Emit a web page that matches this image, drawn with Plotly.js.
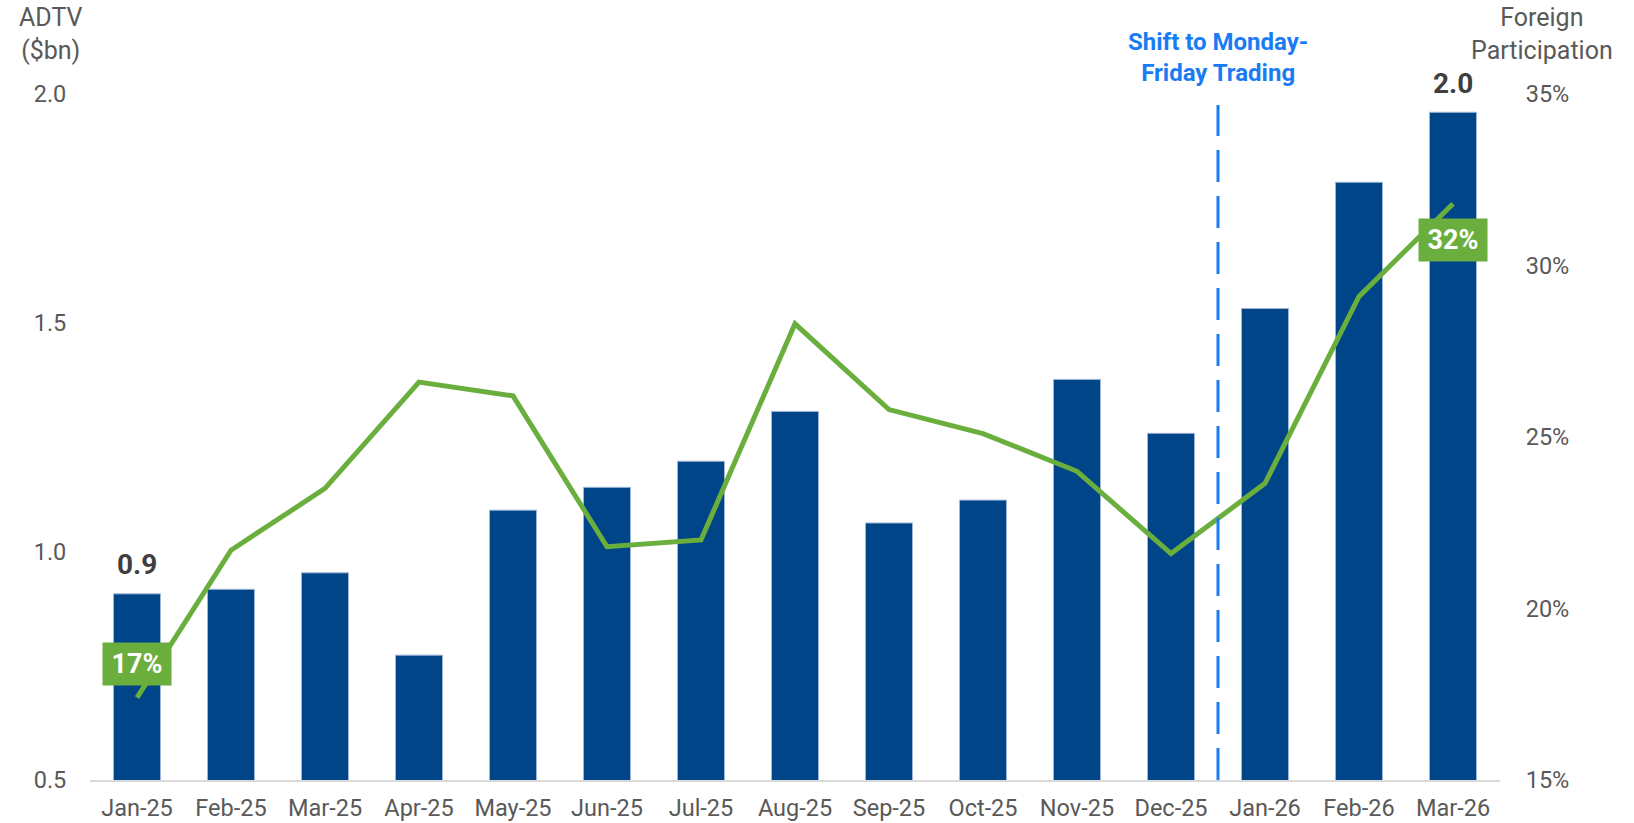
<!DOCTYPE html>
<html>
<head>
<meta charset="utf-8">
<script src="https://cdn.plot.ly/plotly-3.0.1.min.js"></script>
<style>html,body{margin:0;padding:0;background:#fff;}#chart{width:1634px;height:823px;}</style>
</head>
<body>
<div id="chart"></div>
<script>
const months = ["Jan-25","Feb-25","Mar-25","Apr-25","May-25","Jun-25","Jul-25","Aug-25","Sep-25","Oct-25","Nov-25","Dec-25","Jan-26","Feb-26","Mar-26"];
const adtv = [0.907, 0.917, 0.953, 0.773, 1.090, 1.140, 1.197, 1.306, 1.062, 1.112, 1.376, 1.258, 1.531, 1.807, 1.960];
const foreignPct = [17.4, 21.7, 23.5, 26.6, 26.2, 21.8, 22.0, 28.3, 25.8, 25.1, 24.0, 21.6, 23.65, 29.1, 31.8];
const leftTicks = [0.5, 1.0, 1.5, 2.0];
const rightTicks = [15, 20, 25, 30, 35];
const rightTickText = ["15%", "20%", "25%", "30%", "35%"];

const font = "Roboto, 'Noto Sans', sans-serif";
const gray = "#595959";
const barColor = "#004587";
const green = "#6aae3e";
const blue = "#1a7cf5";
const labelDark = "#3f3f3f";

const last = months.length - 1;

const traces = [
  {
    type: "bar", x: months, y: adtv, yaxis: "y",
    marker: {color: barColor, line: {color: "#9db6d6", width: 1}},
    hoverinfo: "skip", showlegend: false
  },
  {
    type: "scatter", mode: "lines", x: months, y: foreignPct, yaxis: "y2",
    line: {color: green, width: 5},
    hoverinfo: "skip", showlegend: false
  }
];

const annotations = [
  {xref: "x", yref: "y", x: months[0], y: adtv[0], text: "<b>" + adtv[0].toFixed(1) + "</b>",
   showarrow: false, yanchor: "middle", yshift: 29, font: {family: font, size: 28, color: labelDark}},
  {xref: "x", yref: "y", x: months[last], y: adtv[last], text: "<b>" + adtv[last].toFixed(1) + "</b>",
   showarrow: false, yanchor: "middle", yshift: 29, font: {family: font, size: 28, color: labelDark}},
  {xref: "x", yref: "y2", x: months[0], y: foreignPct[0], text: "<b>" + Math.round(foreignPct[0]) + "%</b>",
   showarrow: false, yanchor: "middle", yshift: 34, bgcolor: green, width: 68, height: 42, borderpad: 0,
   font: {family: font, size: 27, color: "#ffffff"}},
  {xref: "x", yref: "y2", x: months[last], y: foreignPct[last], text: "<b>" + Math.round(foreignPct[last]) + "%</b>",
   showarrow: false, yanchor: "middle", yshift: -36, bgcolor: green, width: 68, height: 42, borderpad: 0,
   font: {family: font, size: 27, color: "#ffffff"}},
  {xref: "x", yref: "paper", x: 11.5, y: 1.053, text: "<b>Shift to Monday-<br>Friday Trading</b>",
   showarrow: false, yanchor: "middle", xanchor: "center", font: {family: font, size: 24, color: blue}},
  {xref: "paper", yref: "paper", x: -0.028, y: 1.087, text: "ADTV<br>($bn)",
   showarrow: false, yanchor: "middle", xanchor: "center", font: {family: font, size: 25, color: gray}},
  {xref: "paper", yref: "paper", x: 1.030, y: 1.088, text: "Foreign<br>Participation",
   showarrow: false, yanchor: "middle", xanchor: "center", font: {family: font, size: 25, color: gray}}
];

const layout = {
  width: 1634, height: 823,
  margin: {l: 90, r: 134, t: 94, b: 43},
  paper_bgcolor: "#ffffff", plot_bgcolor: "#ffffff",
  bargap: 0.5,
  font: {family: font, size: 23, color: gray},
  xaxis: {
    type: "category", showgrid: false, zeroline: false,
    showline: true, linecolor: "#d9d9d9", linewidth: 2,
    ticks: "outside", ticklen: 6, tickcolor: "rgba(0,0,0,0)",
    tickfont: {family: font, size: 23.5, color: gray}
  },
  yaxis: {
    range: [0.5, 2.0], tickvals: leftTicks, tickformat: ".1f",
    showgrid: false, zeroline: false, showline: false,
    ticks: "outside", ticklen: 18, tickcolor: "rgba(0,0,0,0)",
    tickfont: {family: font, size: 23.5, color: gray}
  },
  yaxis2: {
    range: [15, 35], tickmode: "array", tickvals: rightTicks, ticktext: rightTickText,
    overlaying: "y", side: "right",
    showgrid: false, zeroline: false, showline: false,
    ticks: "outside", ticklen: 20, tickcolor: "rgba(0,0,0,0)",
    tickfont: {family: font, size: 23.5, color: gray}
  },
  shapes: [
    {type: "line", xref: "x", yref: "paper", x0: 11.5, x1: 11.5, y0: 0, y1: 0.984,
     line: {color: blue, width: 3, dash: "32px,14px"}}
  ],
  annotations: annotations
};

Plotly.newPlot("chart", traces, layout, {displayModeBar: false, staticPlot: true});
</script>
</body>
</html>
